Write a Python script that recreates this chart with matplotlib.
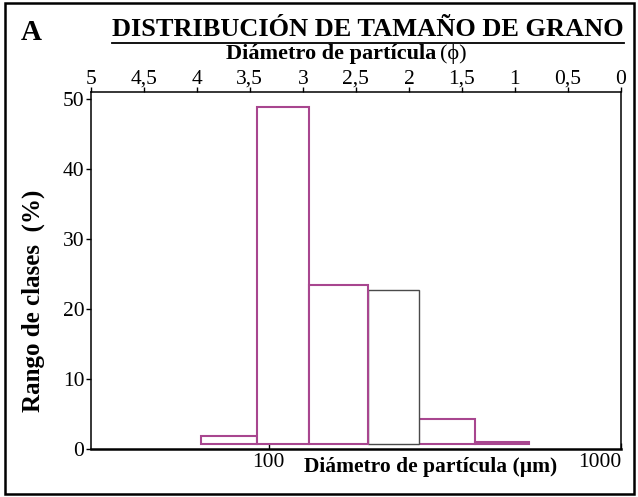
import numpy as np
import matplotlib
matplotlib.use("Agg")
import matplotlib.pyplot as plt
from matplotlib.patches import Rectangle
from matplotlib.lines import Line2D
from matplotlib.ticker import FixedLocator, FuncFormatter

# Grain-size classes (phi units, left and right edges) and class percentages
phi_left = [3.96, 3.43, 2.94, 2.39, 1.90, 1.38]
phi_right = [3.43, 2.94, 2.39, 1.90, 1.38, 0.87]
class_pct = [1.94, 48.9, 23.5, 22.7, 4.3, 1.08]
bar_colors = ["#a8468f", "#a8468f", "#a8468f", "#4a4a4a", "#a8468f", "#a8468f"]
draw_order = [0, 1, 4, 3, 2, 5]
baseline = 0.75

phi_ticks = [5, 4.5, 4, 3.5, 3, 2.5, 2, 1.5, 1, 0.5, 0]
y_ticks = [0, 10, 20, 30, 40, 50]
um_ticks = [100, 1000]

W, H = 638, 497
SERIF = ["Liberation Serif", "DejaVu Serif"]
plt.rcParams["font.family"] = SERIF


def fx(x):
    return x / W


def fy(y):
    return 1 - y / H


fig = plt.figure(figsize=(W / 100, H / 100), dpi=100)
fig.patch.set_facecolor("white")

x0, x1, y0, y1 = 90.7, 621.0, 91.7, 449.3
ax = fig.add_axes([fx(x0), fy(y1), fx(x1) - fx(x0), (y1 - y0) / H])
ax.set_xlim(5, 0)
ax.set_ylim(0, 51.1)

for i in draw_order:
    ax.bar(phi_left[i], class_pct[i] - baseline, width=phi_right[i] - phi_left[i],
           bottom=baseline, align="edge", facecolor="white",
           edgecolor=bar_colors[i], linewidth=1.5 if bar_colors[i] != "#4a4a4a" else 1.0,
           zorder=2)

# phi scale on top
ax.xaxis.set_ticks_position("top")
ax.xaxis.set_label_position("top")
ax.set_xticks(phi_ticks)
ax.xaxis.set_major_formatter(FuncFormatter(lambda v, p: f"{v:g}".replace(".", ",")))
ax.tick_params(axis="x", direction="out", length=3.5, width=1.0, pad=-1.5,
               labelsize=15.5, colors="black")
ax.set_yticks(y_ticks)
ax.tick_params(axis="y", direction="out", length=3.5, width=1.0, pad=1.0,
               labelsize=15.5)

for s in ["left", "top", "right"]:
    ax.spines[s].set_linewidth(1.1)
ax.spines["bottom"].set_linewidth(1.8)

# micrometre scale at the bottom (log relation to phi)
sec = ax.secondary_xaxis("bottom",
                         functions=(lambda p: 1000.0 * 2.0 ** (-p),
                                    lambda d: -np.log2(np.clip(d, 1e-9, None) / 1000.0)))
sec.set_xticks(um_ticks)
sec.set_xticklabels([str(v) for v in um_ticks])
sec.xaxis.set_minor_locator(FixedLocator([]))
sec.tick_params(axis="x", direction="in", length=4.5, width=1.0, pad=2.5,
                labelsize=15.5)
sec.spines["bottom"].set_visible(False)
sec.get_xticklabels()[-1].set_ha("right")

# axis titles
fig.text(fx(33), fy(301), "Rango de clases  (%)", rotation=90, ha="center",
         va="center", fontsize=18, fontweight="bold")
fig.text(fx(431), fy(467), "Diámetro de partícula (µm)", ha="center",
         va="center", fontsize=15.5, fontweight="bold")
fig.text(fx(436), fy(54), "Diámetro de partícula", ha="right", va="center",
         fontsize=16, fontweight="bold")
fig.text(fx(440), fy(54), "(ϕ)", ha="left", va="center", fontsize=16)

# panel letter and underlined title
fig.text(fx(31), fy(32), "A", ha="center", va="center", fontsize=21,
         fontweight="bold")
title = fig.text(fx(624), fy(30), "DISTRIBUCIÓN DE TAMAÑO DE GRANO",
                 ha="right", va="center", fontsize=19, fontweight="bold")
fig.canvas.draw()
bb = title.get_window_extent()
fig.add_artist(Line2D([bb.x0 / W, bb.x1 / W], [fy(43), fy(43)],
                      transform=fig.transFigure, color="black", lw=1.3))

# outer frame
fig.add_artist(Rectangle((fx(5), fy(494)), fx(634) - fx(5), (494 - 3) / H,
                         transform=fig.transFigure, fill=False,
                         edgecolor="black", lw=1.8))

fig.savefig("out.png", dpi=100)
